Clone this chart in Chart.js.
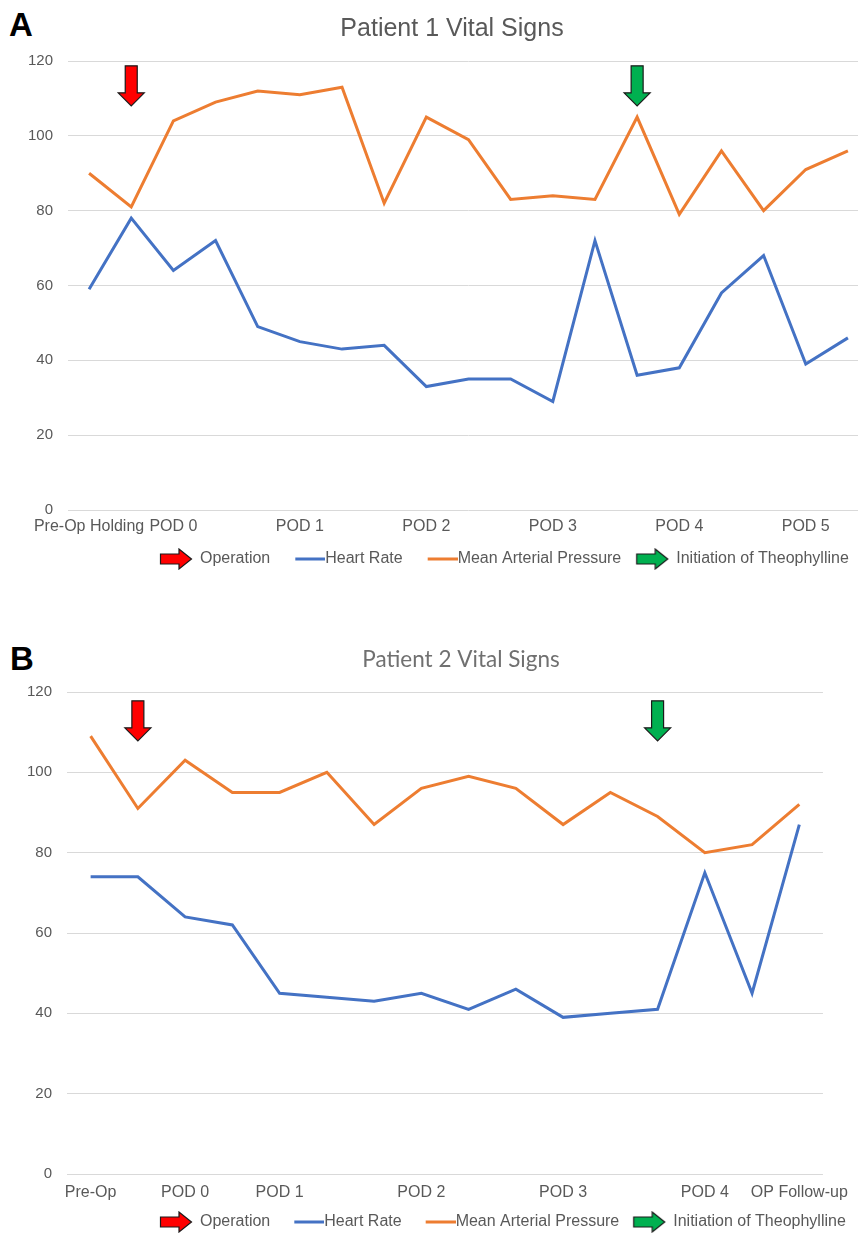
<!DOCTYPE html>
<html>
<head>
<meta charset="utf-8">
<script src="https://cdn.jsdelivr.net/npm/chart.js@4/dist/chart.umd.min.js"></script>
<style>
  html, body { margin: 0; padding: 0; background: #fff; overflow: hidden; width: 858px; height: 1233px; }
  .panel { position: absolute; left: 0; }
  .tag { position: absolute; font: bold 33px "Liberation Sans", Arial, sans-serif; line-height: 1; color: #000; }
</style>
</head>
<body>
<div class="tag" style="left:9px;top:8px">A</div>
<div class="panel" style="top:0;width:870px;height:585px"><canvas id="chartA"></canvas></div>
<div class="tag" style="left:10px;top:642px">B</div>
<div class="panel" style="top:628px;width:858px;height:622px"><canvas id="chartB"></canvas></div>

<script>
// ---- Patient 1 ----
const labelsA = ['Pre-Op Holding', '', 'POD 0', '', '', 'POD 1', '', '', 'POD 2', '', '', 'POD 3', '', '', 'POD 4', '', '', 'POD 5', ''];
const heartRateA = [59, 78, 64, 72, 49, 45, 43, 44, 33, 35, 35, 29, 72, 36, 38, 58, 68, 39, 46];
const mapA = [90, 81, 104, 109, 112, 111, 113, 82, 105, 99, 83, 84, 83, 105, 79, 96, 80, 91, 96];

// ---- Patient 2 ----
const labelsB = ['Pre-Op', '', 'POD 0', '', 'POD 1', '', '', 'POD 2', '', '', 'POD 3', '', '', 'POD 4', '', 'OP Follow-up'];
const heartRateB = [74, 74, 64, 62, 45, 44, 43, 45, 41, 46, 39, 40, 41, 75, 45, 87];
const mapB = [109, 91, 103, 95, 95, 100, 87, 96, 99, 96, 87, 95, 89, 80, 82, 92];

// shared value axis ticks
const yTicks = [0, 20, 40, 60, 80, 100, 120];

// event markers: category index and arrow top in axis units
const operationA = [1, 118.7];
const theophyllineA = [13, 118.7];
const operationB = [1, 117.8];
const theophyllineB = [12, 117.8];

const legendNames = ['Operation', 'Heart Rate', 'Mean Arterial Pressure', 'Initiation of Theophylline'];

const HR_COLOR = '#4472C4';
const MAP_COLOR = '#ED7D31';
const OP_COLOR = '#FF0000';
const THEO_COLOR = '#00B050';
const TEXT = '#595959';
const SANS = '"Liberation Sans", Arial, Helvetica, sans-serif';

// right-pointing arrow used as a legend symbol
function arrowIcon(fill) {
  const c = document.createElement('canvas');
  c.width = 34; c.height = 22;
  const g = c.getContext('2d');
  g.beginPath();
  g.moveTo(1.5, 6); g.lineTo(20, 6); g.lineTo(20, 1); g.lineTo(32.5, 11);
  g.lineTo(20, 21); g.lineTo(20, 16); g.lineTo(1.5, 16); g.closePath();
  g.fillStyle = fill; g.fill();
  g.lineWidth = 1.2; g.strokeStyle = '#1a1a1a'; g.stroke();
  return c;
}
// short line segment legend symbol, drawn on the right so it meets its label
function lineIcon(color) {
  const c = document.createElement('canvas');
  c.width = 48; c.height = 4;
  const g = c.getContext('2d');
  g.fillStyle = color;
  g.fillRect(18, 0.5, 30, 3);
  return c;
}
const legendIcons = [arrowIcon(OP_COLOR), lineIcon(HR_COLOR), lineIcon(MAP_COLOR), arrowIcon(THEO_COLOR)];

// downward event arrows anchored on the category / value scales
const eventArrows = {
  id: 'eventArrows',
  afterDatasetsDraw(chart, args, opts) {
    const { ctx, scales: { x, y } } = chart;
    (opts.markers || []).forEach(m => {
      const cx = x.getPixelForValue(m.at[0]);
      const top = y.getPixelForValue(m.at[1]);
      const shaftW = 12, headW = 26, shaftH = 27, headH = 13;
      ctx.save();
      ctx.beginPath();
      ctx.moveTo(cx - shaftW / 2, top);
      ctx.lineTo(cx + shaftW / 2, top);
      ctx.lineTo(cx + shaftW / 2, top + shaftH);
      ctx.lineTo(cx + headW / 2, top + shaftH);
      ctx.lineTo(cx, top + shaftH + headH);
      ctx.lineTo(cx - headW / 2, top + shaftH);
      ctx.lineTo(cx - shaftW / 2, top + shaftH);
      ctx.closePath();
      ctx.fillStyle = m.color;
      ctx.fill();
      ctx.lineWidth = 1.2;
      ctx.strokeStyle = '#1a1a1a';
      ctx.stroke();
      ctx.restore();
    });
  }
};

// placement of the title and legend rows
const blockPlacer = {
  id: 'blockPlacer',
  beforeDraw(chart, args, opts) {
    const t = chart.titleBlock;
    if (t && opts.titleCenter != null) {
      const w = t.right - t.left;
      t.left = opts.titleCenter - w / 2;
      t.right = t.left + w;
    }
    const l = chart.legend;
    if (l) {
      const pad = l.options.labels.padding;
      const size = l.options.labels.font.size;
      const w = l.right - l.left, h = l.bottom - l.top;
      if (opts.legendStart != null) {
        l.left = opts.legendStart - pad;
        l.right = l.left + w;
      }
      if (opts.legendMiddle != null) {
        l.top = opts.legendMiddle - pad - size / 2;
        l.bottom = l.top + h;
      }
    }
  }
};

function makeChart(id, s) {
  return new Chart(document.getElementById(id), {
    type: 'line',
    data: {
      labels: s.labels,
      datasets: [
        { label: 'Heart Rate', data: s.hr, borderColor: HR_COLOR, backgroundColor: HR_COLOR,
          borderWidth: 3, pointRadius: 0, tension: 0, order: 2 },
        { label: 'Mean Arterial Pressure', data: s.map, borderColor: MAP_COLOR, backgroundColor: MAP_COLOR,
          borderWidth: 3, pointRadius: 0, tension: 0, order: 1 }
      ]
    },
    options: {
      responsive: true,
      maintainAspectRatio: false,
      animation: false,
      events: [],
      layout: { padding: { left: 0, right: s.padRight, top: 0, bottom: 2 } },
      scales: {
        x: {
          type: 'category',
          offset: true,
          grid: { display: false, drawTicks: false },
          border: { display: false },
          ticks: { autoSkip: false, maxRotation: 0, minRotation: 0, padding: s.xPad,
                   color: TEXT, font: { family: SANS, size: 16 } },
          afterFit: sc => { sc.height = s.xHeight; }
        },
        y: {
          min: 0, max: 120,
          grid: { color: '#D9D9D9', lineWidth: 1, drawTicks: false },
          border: { display: false },
          ticks: { padding: 15, color: TEXT, font: { family: SANS, size: 15 } },
          afterBuildTicks: sc => { sc.ticks = yTicks.map(v => ({ value: v })); },
          afterFit: sc => { sc.width = s.yWidth; }
        }
      },
      plugins: {
        title: {
          display: true, text: s.title, color: s.titleColor,
          font: { family: s.titleFont, size: s.titleSize, weight: 'normal', lineHeight: 1.2 },
          padding: { top: s.titlePadTop, bottom: s.titlePadBottom }
        },
        legend: {
          display: true, position: 'bottom', align: 'start',
          onClick: () => {},
          labels: {
            usePointStyle: true, pointStyleWidth: 32, padding: s.legendPad,
            color: TEXT, font: { family: SANS, size: 16 },
            generateLabels: () => legendNames.map((name, i) => ({
              text: name, pointStyle: legendIcons[i], fillStyle: 'rgba(0,0,0,0)',
              strokeStyle: 'rgba(0,0,0,0)', lineWidth: 0, hidden: false, fontColor: TEXT
            }))
          }
        },
        tooltip: { enabled: false },
        eventArrows: { markers: s.markers },
        blockPlacer: { titleCenter: s.titleCenter, legendStart: 160, legendMiddle: s.legendMiddle }
      }
    },
    plugins: [eventArrows, blockPlacer]
  });
}

makeChart('chartA', {
  labels: labelsA, hr: heartRateA, map: mapA,
  title: 'Patient 1 Vital Signs', titleFont: SANS, titleSize: 25, titleColor: TEXT,
  titlePadTop: 14, titlePadBottom: 17, titleCenter: 452,
  xPad: 7.4, xHeight: 32, yWidth: 68, legendPad: 15, padRight: 1, legendMiddle: 559,
  markers: [ { at: operationA, color: OP_COLOR }, { at: theophyllineA, color: THEO_COLOR } ]
});

makeChart('chartB', {
  labels: labelsB, hr: heartRateB, map: mapB,
  title: 'Patient 2 Vital Signs', titleFont: 'Lato, "Open Sans", sans-serif', titleSize: 22.5, titleColor: '#707070',
  titlePadTop: 18.5, titlePadBottom: 18.5, titleCenter: 461,
  xPad: 9.4, xHeight: 34, yWidth: 67, legendPad: 14, padRight: 26, legendMiddle: 594,
  markers: [ { at: operationB, color: OP_COLOR }, { at: theophyllineB, color: THEO_COLOR } ]
});
</script>
</body>
</html>
